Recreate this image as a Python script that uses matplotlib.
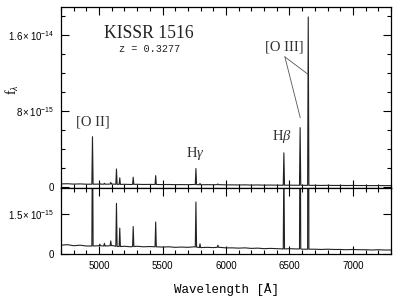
import numpy as np
import matplotlib
matplotlib.use("Agg")
import matplotlib.pyplot as plt
from matplotlib.ticker import MultipleLocator, FixedLocator, FixedFormatter

# ---------------- data (flux in units of 1e-15 erg/s/cm2/A) ----------------
cont_wave = [4700, 4750, 4800, 4850, 4900, 5000, 5050, 5100, 5150, 5200,
             5250, 5300, 5350, 5400, 5500, 5550, 5600, 5650, 5700, 5750,
             5800, 5850, 5900, 5950, 6000, 6050, 6100, 6150, 6200, 6250,
             6300, 6350, 6400, 6450, 6500, 6550, 6600, 6700, 6750, 6800,
             6850, 6900, 6950, 7000, 7050, 7100, 7150, 7200, 7250, 7300]
cont_flux = [0.33, 0.35, 0.31, 0.33, 0.30, 0.31, 0.30, 0.32, 0.28, 0.29,
             0.27, 0.29, 0.27, 0.28, 0.26, 0.27, 0.25, 0.26, 0.25, 0.27,
             0.24, 0.25, 0.24, 0.25, 0.23, 0.23, 0.22, 0.23, 0.21, 0.22,
             0.20, 0.21, 0.20, 0.19, 0.20, 0.19, 0.18, 0.18, 0.17, 0.18,
             0.17, 0.17, 0.16, 0.17, 0.16, 0.16, 0.15, 0.16, 0.15, 0.15]

line_wave = [4948, 5006, 5042, 5092, 5137, 5163, 5269, 5446, 5763, 5795,
             5936, 6456, 6584, 6648]
line_peak = [5.3, 0.37, 0.40, 0.49, 1.9, 0.97, 1.03, 1.2, 1.95, 0.38,
             0.33, 3.6, 6.25, 17.9]
line_base = [0.30, 0.31, 0.30, 0.31, 0.29, 0.28, 0.28, 0.27, 0.26, 0.24,
             0.25, 0.19, 0.19, 0.18]
line_halfwidth = 5

xticks_major = [5000, 5500, 6000, 6500, 7000]
top_yticks = [0, 8, 16]
top_ylabels = ["0", r"$8\times10^{-15}$", r"$1.6\times10^{-14}$"]
bot_yticks = [0, 1.5]
bot_ylabels = ["0", r"$1.5\times10^{-15}$"]

labels_txt = ["[O II]", r"H$\gamma$", r"H$\beta$", "[O III]"]
labels_x = [4949, 5760, 6441, 6462]
labels_y = [6.84, 3.55, 5.3, 14.7]

oiii_from = (6464, 13.7)
oiii_to_x = [6643, 6585]
oiii_to_y = [11.9, 7.3]

# ---------------- build spectrum ----------------
w = list(cont_wave)
f = list(cont_flux)
for c, p, b in zip(line_wave, line_peak, line_base):
    w += [c - line_halfwidth, c, c + line_halfwidth]
    f += [b, p, b]
order = np.argsort(w)
wave = np.array(w)[order]
flux = np.array(f)[order]

plt.rcParams['font.family'] = ['Liberation Sans', 'DejaVu Sans']
plt.rcParams['mathtext.fontset'] = 'custom'
plt.rcParams['mathtext.rm'] = 'Liberation Sans'
plt.rcParams['mathtext.it'] = 'Liberation Serif:italic'

fig = plt.figure(figsize=(3.99, 3.02), dpi=100)
L, R = 61 / 399, 391 / 399
ax1 = fig.add_axes([L, 1 - 188 / 302, R - L, (188 - 7) / 302])
ax2 = fig.add_axes([L, 1 - 254 / 302, R - L, (254 - 188) / 302])

for ax in (ax1, ax2):
    ax.plot(wave, flux, color='#222222', lw=0.8)
    ax.set_xlim(4700, 7300)
    ax.xaxis.set_major_locator(FixedLocator(xticks_major))
    ax.xaxis.set_minor_locator(MultipleLocator(100))
    ax.tick_params(which='both', direction='in', top=True, right=True,
                   labelsize=7, width=0.8, pad=5)
    ax.tick_params(which='major', length=6)
    ax.tick_params(which='minor', length=3)
    for s in ax.spines.values():
        s.set_linewidth(0.9)

ax1.set_ylim(-0.1, 18.95)
ax1.yaxis.set_major_locator(FixedLocator(top_yticks))
ax1.yaxis.set_major_formatter(FixedFormatter(top_ylabels))
ax1.yaxis.set_minor_locator(MultipleLocator(2))
ax1.tick_params(axis='x', labelbottom=False)

ax2.set_ylim(0, 2.475)
ax2.yaxis.set_major_locator(FixedLocator(bot_yticks))
ax2.yaxis.set_major_formatter(FixedFormatter(bot_ylabels))
ax2.set_xlabel("Wavelength [Å]", family='Liberation Mono', fontsize=9, labelpad=9)

for t, x, y in zip(labels_txt, labels_x, labels_y):
    ax1.text(x, y, t, ha='center', va='center', family='Liberation Serif',
             fontsize=10.5, color='#333333')

for x2, y2 in zip(oiii_to_x, oiii_to_y):
    ax1.plot([oiii_from[0], x2], [oiii_from[1], y2], color='#555555', lw=0.6)

ax1.text(5395, 16.2, "KISSR 1516", ha='center', va='center',
         family='Liberation Serif', fontsize=12.7, color='#222222')
ax1.text(5399, 14.5, "z = 0.3277", ha='center', va='center',
         family='Liberation Mono', fontsize=7.3, color='#222222')

fig.text(12 / 399, 1 - 90 / 302, r"f$_\lambda$", rotation=90, ha='center',
         va='center', family='Liberation Serif', fontsize=10)

fig.savefig("out.png", dpi=100)
